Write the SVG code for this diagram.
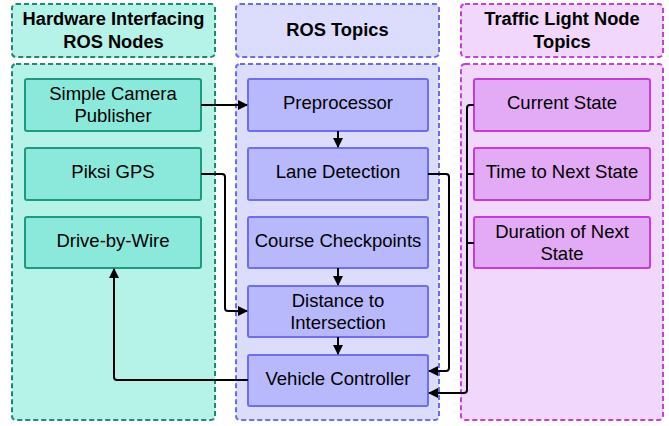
<svg xmlns="http://www.w3.org/2000/svg" width="669" height="426" viewBox="0 0 669 426">
<defs>
<marker id="ah" viewBox="0 0 10 10" refX="9" refY="5" markerWidth="10" markerHeight="10" markerUnits="userSpaceOnUse" orient="auto"><path d="M0,0 L10,5 L0,10 Z" fill="#000"/></marker>
<style>
text{font-family:"Liberation Sans",Arial,sans-serif;font-size:18.5px;fill:#000;text-anchor:middle}
.h{font-weight:bold;font-size:18.3px}
.gT{fill:#b5f3e8;stroke:#1a8a72;stroke-width:2;stroke-dasharray:5,3}
.gB{fill:#dcdcfd;stroke:#6b6bef;stroke-width:2;stroke-dasharray:5,3}
.gP{fill:#f2d7fc;stroke:#c43fe0;stroke-width:2;stroke-dasharray:5,3}
.nT{fill:#8ae9da;stroke:#1f9a82;stroke-width:2}
.nB{fill:#b8b8fc;stroke:#6e6ef5;stroke-width:2}
.nP{fill:#e3aaf6;stroke:#c43ce0;stroke-width:2}
.c{fill:none;stroke:#000;stroke-width:2}
</style>
</defs>
<g id="col-hardware">
<rect class="gT" x="12" y="4" width="203" height="53" rx="4"/>
<text class="h" x="113.5" y="25">Hardware Interfacing</text>
<text class="h" x="113.5" y="48">ROS Nodes</text>
<rect class="gT" x="12" y="64" width="203" height="356" rx="4"/>
</g>
<g id="col-ros">
<rect class="gB" x="236" y="4" width="203" height="53" rx="4"/>
<text class="h" x="337.5" y="36">ROS Topics</text>
<rect class="gB" x="236" y="64" width="203" height="356" rx="4"/>
</g>
<g id="col-traffic">
<rect class="gP" x="461" y="4" width="202" height="53" rx="4"/>
<text class="h" x="562" y="25">Traffic Light Node</text>
<text class="h" x="562" y="48">Topics</text>
<rect class="gP" x="461" y="64" width="202" height="356" rx="4"/>
</g>
<g id="simple-camera-publisher">
<rect class="nT" x="25" y="79" width="176" height="52" rx="2"/>
<text x="113" y="100">Simple Camera</text>
<text x="113" y="122">Publisher</text>
</g>
<g id="piksi-gps">
<rect class="nT" x="25" y="148" width="176" height="52" rx="2"/>
<text x="113" y="178">Piksi GPS</text>
</g>
<g id="drive-by-wire">
<rect class="nT" x="25" y="217" width="176" height="51" rx="2"/>
<text x="113" y="247">Drive-by-Wire</text>
</g>
<g id="preprocessor">
<rect class="nB" x="248" y="79" width="180" height="52" rx="2"/>
<text x="338" y="109">Preprocessor</text>
</g>
<g id="lane-detection">
<rect class="nB" x="248" y="148" width="180" height="52" rx="2"/>
<text x="338" y="178">Lane Detection</text>
</g>
<g id="course-checkpoints">
<rect class="nB" x="248" y="217" width="180" height="51" rx="2"/>
<text x="338" y="247">Course Checkpoints</text>
</g>
<g id="distance-to-intersection">
<rect class="nB" x="248" y="286" width="180" height="51" rx="2"/>
<text x="338" y="307">Distance to</text>
<text x="338" y="329">Intersection</text>
</g>
<g id="vehicle-controller">
<rect class="nB" x="248" y="355" width="180" height="51" rx="2"/>
<text x="338" y="385">Vehicle Controller</text>
</g>
<g id="current-state">
<rect class="nP" x="474" y="79" width="176" height="52" rx="2"/>
<text x="562" y="109">Current State</text>
</g>
<g id="time-to-next-state">
<rect class="nP" x="474" y="148" width="176" height="52" rx="2"/>
<text x="562" y="178">Time to Next State</text>
</g>
<g id="duration-of-next-state">
<rect class="nP" x="474" y="217" width="176" height="51" rx="2"/>
<text x="562" y="238">Duration of Next</text>
<text x="562" y="260">State</text>
</g>
<g id="connectors">
<path class="c" d="M201,105 H247" marker-end="url(#ah)"/>
<path class="c" d="M338,131 V147" marker-end="url(#ah)"/>
<path class="c" d="M338,268 V285" marker-end="url(#ah)"/>
<path class="c" d="M338,337 V354" marker-end="url(#ah)"/>
<path class="c" d="M201,174 H222 Q225,174 225,177 V308 Q225,311 228,311 H247" marker-end="url(#ah)"/>
<path class="c" d="M248,380 H117 Q114,380 114,377 V269" marker-end="url(#ah)"/>
<path class="c" d="M428,174 H446 Q449,174 449,177 V368 Q449,371 446,371 H429" marker-end="url(#ah)"/>
<path class="c" d="M474,105 H470 Q467,105 467,108 V390 Q467,393 464,393 H429" marker-end="url(#ah)"/>
<path class="c" d="M474,174 H467"/>
<path class="c" d="M474,243 H467"/>
</g>
</svg>
